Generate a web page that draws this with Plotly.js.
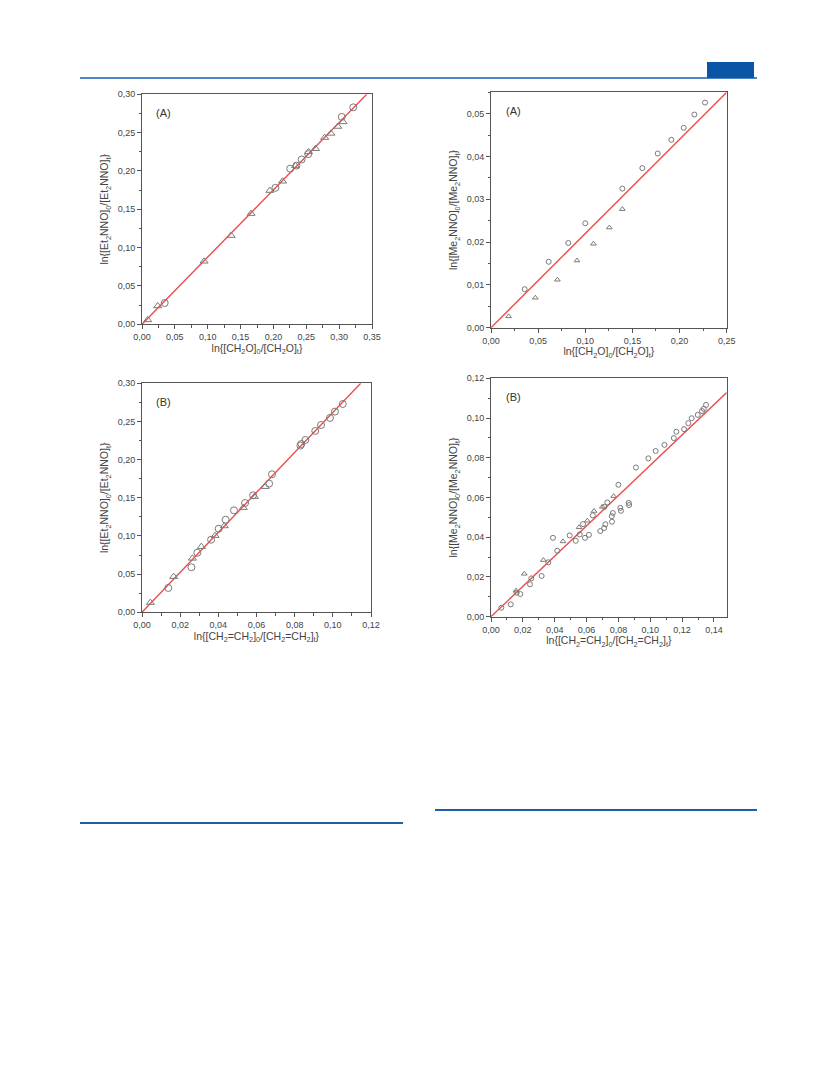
<!DOCTYPE html>
<html><head><meta charset="utf-8">
<script src="https://cdn.plot.ly/plotly-3.0.1.min.js"></script>
<style>html,body{margin:0;padding:0;background:#fff}#chart{width:833px;height:1091px}</style>
</head><body><div id="chart"></div>
<script>
// ---- Panel 1: Et2NNO vs CH2O (A)
const p1CircX = [0.0345, 0.203, 0.2255, 0.235, 0.243, 0.253, 0.304, 0.3215];
const p1CircY = [0.0278, 0.178, 0.203, 0.207, 0.215, 0.222, 0.2705, 0.283];
const p1TriX = [0.0086, 0.0239, 0.0945, 0.1356, 0.166, 0.1946, 0.2139, 0.2337, 0.2535, 0.264, 0.278, 0.2875, 0.298, 0.306];
const p1TriY = [0.0057, 0.0239, 0.0822, 0.1157, 0.1444, 0.1744, 0.1866, 0.2066, 0.2249, 0.229, 0.2436, 0.249, 0.258, 0.264];
const p1FitX = [0, 0.342];
const p1FitY = [0, 0.30];

// ---- Panel 2: Me2NNO vs CH2O (A)
const p2CircX = [0.0357, 0.0612, 0.082, 0.100, 0.1393, 0.1605, 0.1768, 0.1913, 0.2044, 0.2157, 0.227];
const p2CircY = [0.0090, 0.0154, 0.0198, 0.0244, 0.0325, 0.0373, 0.0407, 0.0439, 0.0467, 0.0498, 0.0526];
const p2TriX = [0.0187, 0.047, 0.0704, 0.0912, 0.1086, 0.1255, 0.1393];
const p2TriY = [0.00265, 0.0070, 0.0112, 0.0157, 0.0196, 0.0234, 0.0277];
const p2FitX = [0, 0.25];
const p2FitY = [0, 0.055];

// ---- Panel 3: Et2NNO vs CH2=CH2 (B)
const p3CircX = [0.0138, 0.0259, 0.029, 0.0362, 0.0402, 0.0438, 0.0482, 0.054, 0.0582, 0.0666, 0.0681, 0.083, 0.0835, 0.0856, 0.0908, 0.0938, 0.0985, 0.1011, 0.1052];
const p3CircY = [0.0319, 0.0590, 0.0780, 0.0951, 0.1095, 0.1213, 0.1336, 0.1432, 0.1533, 0.1686, 0.1808, 0.2184, 0.2205, 0.2258, 0.2376, 0.2454, 0.2546, 0.2629, 0.2729];
const p3TriX = [0.0044, 0.0166, 0.0264, 0.0311, 0.0383, 0.0431, 0.0531, 0.0589, 0.0646];
const p3TriY = [0.0127, 0.0467, 0.0707, 0.0860, 0.1004, 0.1131, 0.1371, 0.1515, 0.1646];
const p3FitX = [0, 0.1146];
const p3FitY = [0, 0.30];

// ---- Panel 4: Me2NNO vs CH2=CH2 (B)
const p4CircX = [0.0065, 0.0124, 0.0161, 0.0184, 0.0245, 0.0253, 0.0318, 0.036, 0.0389, 0.0416, 0.0494, 0.0532, 0.0557, 0.0578, 0.059, 0.0615, 0.0639, 0.0686, 0.0712, 0.071, 0.0718, 0.073, 0.0758, 0.076, 0.0765, 0.08, 0.0812, 0.0816, 0.0865, 0.0867, 0.091, 0.0988, 0.1034, 0.1089, 0.1148, 0.1164, 0.1212, 0.1239, 0.126, 0.1298, 0.1325, 0.1336, 0.135];
const p4CircY = [0.0045, 0.0062, 0.0121, 0.0114, 0.0163, 0.0193, 0.0205, 0.0274, 0.0397, 0.0332, 0.0409, 0.0382, 0.0414, 0.0466, 0.0397, 0.0412, 0.0510, 0.0431, 0.0553, 0.0446, 0.0465, 0.0575, 0.0506, 0.0478, 0.0522, 0.0664, 0.0548, 0.0533, 0.0573, 0.0562, 0.0751, 0.0797, 0.0834, 0.0865, 0.0899, 0.0931, 0.0944, 0.0974, 0.0999, 0.1016, 0.1035, 0.1046, 0.1066];
const p4TriX = [0.0157, 0.0209, 0.0329, 0.0452, 0.0553, 0.0605, 0.0647, 0.0699, 0.077];
const p4TriY = [0.0131, 0.0216, 0.0285, 0.0379, 0.0450, 0.0483, 0.0532, 0.0553, 0.0607];
const p4FitX = [0, 0.148];
const p4FitY = [0, 0.1128];

// ---- Labels
const panelLabels = ['(A)', '(A)', '(B)', '(B)'];
const xTitles = [
  'ln{[CH<sub>2</sub>O]<sub>0</sub>/[CH<sub>2</sub>O]<sub>t</sub>}',
  'ln{[CH<sub>2</sub>O]<sub>0</sub>/[CH<sub>2</sub>O]<sub>t</sub>}',
  'ln{[CH<sub>2</sub>=CH<sub>2</sub>]<sub>0</sub>/[CH<sub>2</sub>=CH<sub>2</sub>]<sub>t</sub>}',
  'ln{[CH<sub>2</sub>=CH<sub>2</sub>]<sub>0</sub>/[CH<sub>2</sub>=CH<sub>2</sub>]<sub>t</sub>}'
];
const yTitles = [
  'ln{[Et<sub>2</sub>NNO]<sub>0</sub>/[Et<sub>2</sub>NNO]<sub>t</sub>}',
  'ln{[Me<sub>2</sub>NNO]<sub>0</sub>/[Me<sub>2</sub>NNO]<sub>t</sub>}',
  'ln{[Et<sub>2</sub>NNO]<sub>0</sub>/[Et<sub>2</sub>NNO]<sub>t</sub>}',
  'ln{[Me<sub>2</sub>NNO]<sub>0</sub>/[Me<sub>2</sub>NNO]<sub>t</sub>}'
];

const W = 833, H = 1091;
const FONT = 'Liberation Sans, Arial, sans-serif';
const mk = '#7a7a7a';
const red = '#ee4b4b';

function pts(x, y, sym, size, ax) {
  return {x: x, y: y, type: 'scatter', mode: 'markers', xaxis: 'x' + ax, yaxis: 'y' + ax,
    marker: {symbol: sym, size: size, color: mk, line: {color: mk, width: 1}}, showlegend: false, hoverinfo: 'x+y'};
}
function fit(x, y, ax) {
  return {x: x, y: y, type: 'scatter', mode: 'lines', xaxis: 'x' + ax, yaxis: 'y' + ax,
    line: {color: red, width: 1.4}, showlegend: false};
}

const data = [
  fit(p1FitX, p1FitY, ''), pts(p1CircX, p1CircY, 'circle-open', 7, ''), pts(p1TriX, p1TriY, 'triangle-up-open', 7, ''),
  fit(p2FitX, p2FitY, '2'), pts(p2CircX, p2CircY, 'circle-open', 5, '2'), pts(p2TriX, p2TriY, 'triangle-up-open', 5, '2'),
  fit(p3FitX, p3FitY, '3'), pts(p3CircX, p3CircY, 'circle-open', 7, '3'), pts(p3TriX, p3TriY, 'triangle-up-open', 7, '3'),
  fit(p4FitX, p4FitY, '4'), pts(p4CircX, p4CircY, 'circle-open', 5, '4'), pts(p4TriX, p4TriY, 'triangle-up-open', 5, '4')
];

// plot area pixel boxes [left, right, top, bottom]
const boxes = [[142, 372, 94.3, 324.3], [491, 726.7, 92.3, 327.7], [142, 371, 383.3, 612.3], [491, 726.7, 378.3, 616.7]];
const xRanges = [[0, 0.35], [0, 0.25], [0, 0.12], [0, 0.148]];
const yRanges = [[0, 0.30], [0, 0.055], [0, 0.30], [0, 0.12]];
const xD = [0.05, 0.05, 0.02, 0.02];
const yD = [0.05, 0.01, 0.05, 0.02];

function axis(dom, range, dt, title, anchor, isY) {
  return {domain: dom, range: range, dtick: dt, tick0: 0, tickformat: '.2f', anchor: anchor,
    ticks: 'outside', ticklen: 4, tickwidth: 1, tickcolor: '#555', linecolor: '#555', linewidth: 1,
    mirror: true, showgrid: false, zeroline: false, fixedrange: true, automargin: false,
    minor: {dtick: dt / 2, ticks: 'outside', ticklen: 2.5, tickcolor: '#555', showgrid: false},
    tickfont: {family: FONT, size: 9, color: '#444'},
    title: {text: title, standoff: isY ? 6 : 3, font: {family: FONT, size: 10.5, color: '#444'}}};
}

const layout = {width: W, height: H, margin: {l: 0, r: 0, t: 0, b: 0}, paper_bgcolor: '#fff', plot_bgcolor: '#fff',
  separators: ',.', showlegend: false, font: {family: FONT}, annotations: [], shapes: []};

['', '2', '3', '4'].forEach(function (s, i) {
  const b = boxes[i];
  const xd = [b[0] / W, b[1] / W];
  const yd = [1 - b[3] / H, 1 - b[2] / H];
  layout['xaxis' + s] = axis(xd, xRanges[i], xD[i], xTitles[i], 'y' + s, false);
  layout['yaxis' + s] = axis(yd, yRanges[i], yD[i], yTitles[i], 'x' + s, true);
  layout.annotations.push({xref: 'x' + s + ' domain', yref: 'y' + s + ' domain', x: 0.095, y: 0.92,
    text: panelLabels[i], showarrow: false, xanchor: 'center', yanchor: 'middle',
    font: {family: FONT, size: 11, color: '#333'}});
});

// page decorations
layout.shapes.push({type: 'line', xref: 'paper', yref: 'paper', x0: 80 / W, x1: 757 / W, y0: 1 - 78 / H, y1: 1 - 78 / H, line: {color: '#4f87c6', width: 2}});
layout.shapes.push({type: 'rect', xref: 'paper', yref: 'paper', x0: 707 / W, x1: 754 / W, y0: 1 - 78 / H, y1: 1 - 62 / H, fillcolor: '#0a55a6', line: {width: 0}});
layout.shapes.push({type: 'line', xref: 'paper', yref: 'paper', x0: 80 / W, x1: 403 / W, y0: 1 - 823 / H, y1: 1 - 823 / H, line: {color: '#1e5fa8', width: 2}});
layout.shapes.push({type: 'line', xref: 'paper', yref: 'paper', x0: 435 / W, x1: 757 / W, y0: 1 - 810 / H, y1: 1 - 810 / H, line: {color: '#1e5fa8', width: 2}});

Plotly.newPlot('chart', data, layout, {displayModeBar: false, staticPlot: true});
</script></body></html>
